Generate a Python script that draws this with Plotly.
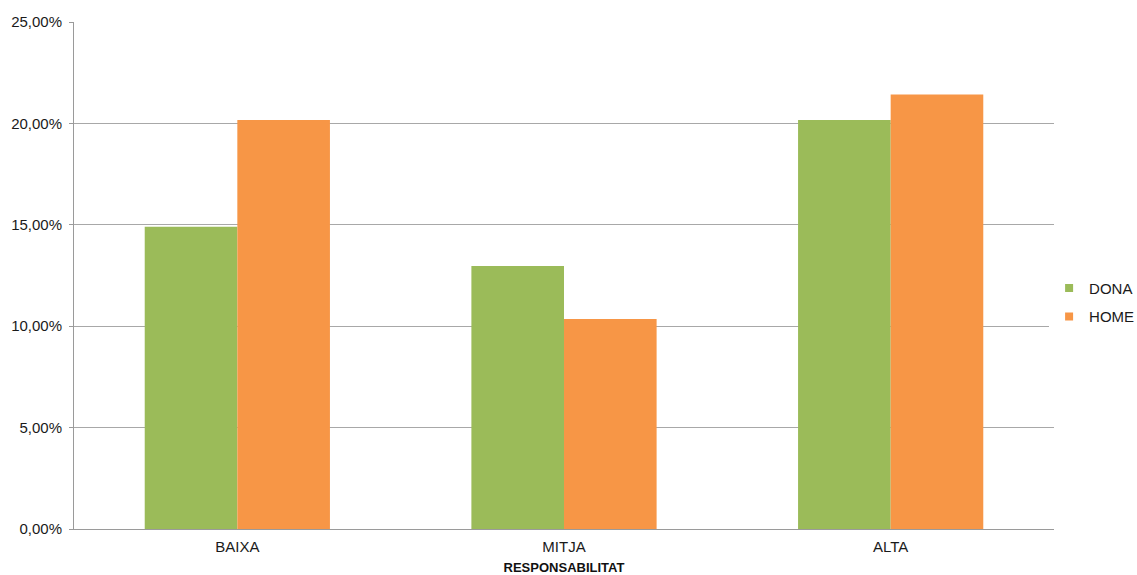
import plotly.graph_objects as go

categories = ["BAIXA", "MITJA", "ALTA"]
dona = [14.9, 12.97, 20.17]
home = [20.17, 10.36, 21.43]
series_names = ["DONA", "HOME"]
series_colors = ["#9BBB59", "#F79646"]
y_ticks = [0, 5, 10, 15, 20, 25]
y_tick_labels = ["0,00%", "5,00%", "10,00%", "15,00%", "20,00%", "25,00%"]

fig = go.Figure()
for name, vals, col in zip(series_names, [dona, home], series_colors):
    fig.add_trace(go.Bar(name=name, x=categories, y=vals, showlegend=False,
                         marker=dict(color=col, line=dict(width=0))))
# legend entries with small square swatches
for name, col in zip(series_names, series_colors):
    fig.add_trace(go.Scatter(name=name, x=[None], y=[None], mode="markers", legendgroup=name,
                             marker=dict(symbol="square", size=8, color=col), showlegend=True))

fig.update_layout(
    width=1137, height=575,
    margin=dict(l=74, r=83, t=22, b=46, autoexpand=False),
    paper_bgcolor="white", plot_bgcolor="white",
    barmode="group", bargap=0.433, bargroupgap=0,
    font=dict(family="Liberation Sans, Arial, sans-serif", size=15, color="#1a1a1a"),
    legend=dict(x=0.995, y=0.447, xanchor="left", yanchor="middle",
                font=dict(size=15), itemwidth=30, traceorder="grouped", tracegroupgap=6),
    xaxis=dict(
        showgrid=False, showline=True, linecolor="#9a9a9a", linewidth=1,
        ticks="", tickfont=dict(size=15), ticklabelstandoff=4,
        title=dict(text="<b>RESPONSABILITAT</b>", standoff=12,
                   font=dict(family="Liberation Sans Narrow, Arial Narrow, sans-serif", size=13, color="#111111")),
    ),
    yaxis=dict(
        range=[0, 25], tickvals=y_ticks, ticktext=y_tick_labels,
        showgrid=True, gridcolor="#a8a8a8", gridwidth=1,
        showline=True, linecolor="#9a9a9a", linewidth=1,
        ticks="outside", ticklen=4, tickcolor="#9a9a9a",
        tickfont=dict(size=15), zeroline=False, ticklabelstandoff=4,
    ),
)

fig.write_html("out.html")
